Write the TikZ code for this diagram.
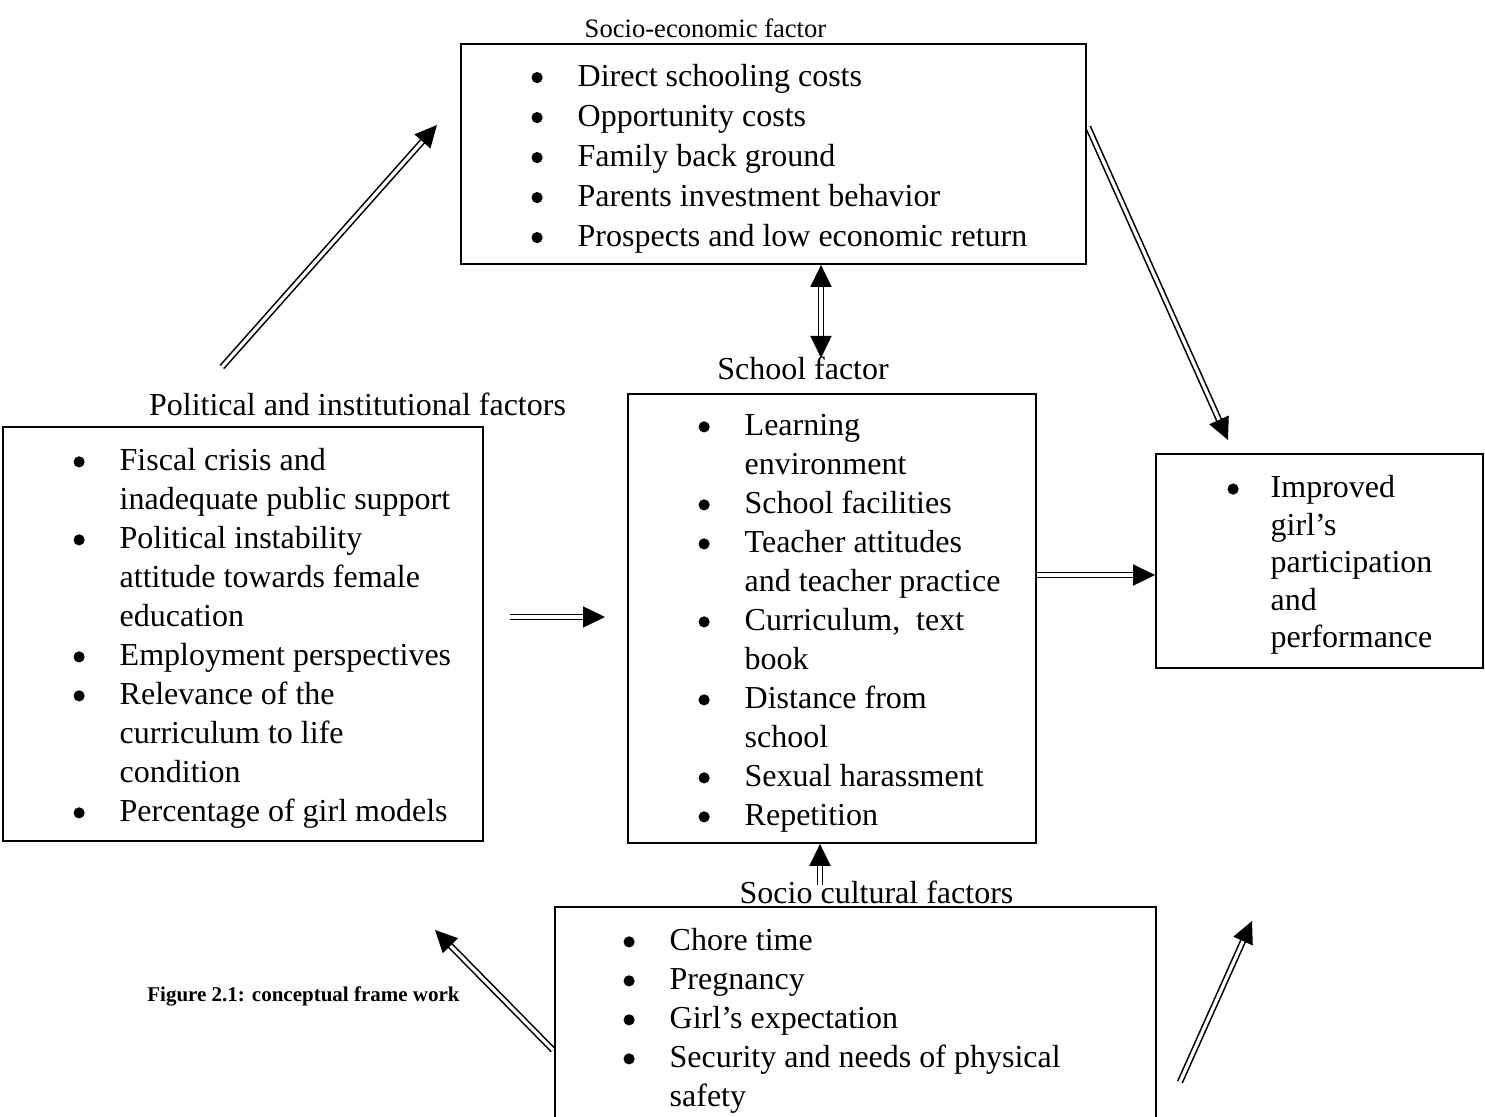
\documentclass[tikz,border=0pt]{standalone}
\usepackage{fontspec}
\setmainfont{Liberation Serif}
\usetikzlibrary{arrows.meta, calc}

\newcommand{\factorbullet}{\tikz[baseline=-0.6ex]\fill (0,0) circle (2.8pt);}

\begin{document}
\begin{tikzpicture}[
    x=0.5pt, y=-0.5pt,
    factorbox/.style={
        draw=black, line width=0.9pt, inner sep=0pt
    },
    itemtext/.style={
        anchor=west, inner sep=0pt, align=left, yshift=-2.2pt,
        font=\fontsize{16}{19.5}\selectfont
    },
    boxtitle/.style={
        inner sep=0pt, font=\fontsize{16}{19.5}\selectfont
    },
    dblarrow/.style={
        double, double distance=1.6pt, line width=0.8pt,
        -{Triangle[length=11pt, width=10.5pt]}
    },
    caption/.style={inner sep=0pt, font=\fontsize{10.5}{12}\selectfont\bfseries}
]
\useasboundingbox (0,0) rectangle (1485,1117);

% Boxes
\node[factorbox, minimum width=312.5pt, minimum height=110pt] (socio) at (773.5,154) {};
\node[factorbox, minimum width=240pt, minimum height=207pt] (political) at (243,634) {};
\node[factorbox, minimum width=204pt, minimum height=224.5pt] (school) at (832,618.5) {};
\node[factorbox, minimum width=163.5pt, minimum height=107pt] (outcome) at (1319.5,561) {};
\node[factorbox, minimum width=300.5pt, minimum height=109.5pt] (cultural) at (855.5,1016.5) {};

% Box contents
\node[itemtext, font=\fontsize{16}{20}\selectfont] (sociotext) at ($(socio.west)+(35.5pt,0)$) {%
\begin{tabular}{@{}c@{\hspace{17.5pt}}l@{}}
\factorbullet & Direct schooling costs\\
\factorbullet & Opportunity costs\\
\factorbullet & Family back ground\\
\factorbullet & Parents investment behavior\\
\factorbullet & Prospects and low economic return
\end{tabular}};

\node[itemtext] (politicaltext) at ($(political.west)+(35.5pt,0)$) {%
\begin{tabular}{@{}c@{\hspace{17.5pt}}l@{}}
\factorbullet & Fiscal crisis and\\
 & inadequate public support\\
\factorbullet & Political instability\\
 & attitude towards female\\
 & education\\
\factorbullet & Employment perspectives\\
\factorbullet & Relevance of the\\
 & curriculum to life\\
 & condition\\
\factorbullet & Percentage of girl models
\end{tabular}};

\node[itemtext] (schooltext) at ($(school.west)+(35.5pt,0)$) {%
\begin{tabular}{@{}c@{\hspace{17.5pt}}l@{}}
\factorbullet & Learning\\
 & environment\\
\factorbullet & School facilities\\
\factorbullet & Teacher attitudes\\
 & and teacher practice\\
\factorbullet & Curriculum,\ \ text\\
 & book\\
\factorbullet & Distance from\\
 & school\\
\factorbullet & Sexual harassment\\
\factorbullet & Repetition
\end{tabular}};

\node[itemtext, font=\fontsize{16}{18.75}\selectfont] (outcometext) at ($(outcome.west)+(36pt,0)$) {%
\begin{tabular}{@{}c@{\hspace{16pt}}l@{}}
\factorbullet & Improved\\
 & girl’s\\
 & participation\\
 & and\\
 & performance
\end{tabular}};

\node[itemtext] (culturaltext) at ($(cultural.west)+(34.5pt,0)$) {%
\begin{tabular}{@{}c@{\hspace{17.5pt}}l@{}}
\factorbullet & Chore time\\
\factorbullet & Pregnancy\\
\factorbullet & Girl’s expectation\\
\factorbullet & Security and needs of physical\\
 & safety
\end{tabular}};

% Titles
\node[boxtitle, font=\fontsize{13.3}{15}\selectfont] (sociotitle) at (705.5,28) {Socio-economic factor};
\node[boxtitle] (politicaltitle) at (357.5,404) {Political and institutional factors};
\node[boxtitle] (schooltitle) at (803,368) {School factor};
\node[boxtitle] (culturaltitle) at (876.5,892) {Socio cultural factors};
\node[caption] (figcaption) at (303.5,996) {Figure 2.1: conceptual frame work};

% Free arrow ends
\coordinate (polup) at (222,367);
\coordinate (socleft) at (437,125);
\coordinate (socright) at (1088,127);
\coordinate (outtop) at (1228,440);
\coordinate (schooltop) at (821,358);
\coordinate (polright) at (510,617);
\coordinate (schoolleft) at (605,617);
\coordinate (schoolout) at (1100,575);
\coordinate (cultup) at (820,885);
\coordinate (cultleft) at (553,1050);
\coordinate (polbelow) at (435,930);
\coordinate (cultright) at (1180,1082);
\coordinate (outbelow) at (1252,921);

% Arrows
\draw[dblarrow] (polup) -- (socleft);
\draw[dblarrow] (socright) -- (outtop);
\draw[dblarrow, {Triangle[length=11pt, width=10.5pt]}-{Triangle[length=11pt, width=10.5pt]}] (socio.south -| schooltop) -- (schooltop);
\draw[dblarrow] (polright) -- (schoolleft);
\draw[dblarrow] (school.east |- schoolout) -- (outcome.west |- schoolout);
\draw[dblarrow] (cultup) -- (school.south -| cultup);
\draw[dblarrow] (cultleft) -- (polbelow);
\draw[dblarrow] (cultright) -- (outbelow);

\end{tikzpicture}
\end{document}
